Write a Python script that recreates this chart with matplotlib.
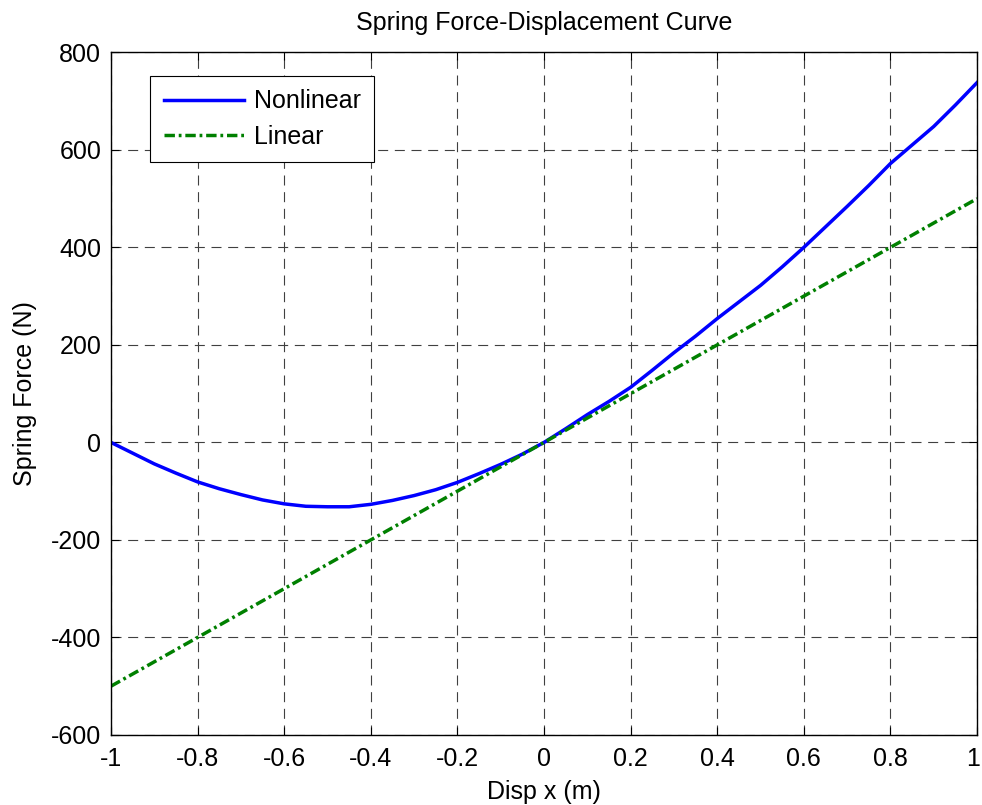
"""Spring force vs displacement, nonlinear and linear springs."""

import matplotlib
import numpy as np

matplotlib.use("Agg")
import matplotlib.pyplot as plt
import matplotlib.transforms as mtransforms

plt.rcParams["font.family"] = ["Liberation Sans", "DejaVu Sans"]

# values
disp = [-1.0, -0.95, -0.9, -0.85, -0.8, -0.75, -0.7, -0.65, -0.6, -0.55,
        -0.5, -0.45, -0.4, -0.35, -0.3, -0.25, -0.2, -0.15, -0.1, -0.05,
        0.0, 0.05, 0.1, 0.15, 0.2, 0.25, 0.3, 0.35, 0.4, 0.45,
        0.5, 0.55, 0.6, 0.65, 0.7, 0.75, 0.8, 0.85, 0.9, 0.95, 1.0]
force_nonlinear = [0, -22, -44, -63, -81, -95, -107, -118, -126, -131,
                   -132, -132, -127, -119, -109, -97, -82, -64, -45, -24,
                   0, 28, 57, 84, 113, 148, 184, 218, 254, 288,
                   322, 360, 400, 442, 484, 527, 572, 610, 648, 692, 738]
disp_linear = [-1.0, 1.0]
force_linear = [-500, 500]

fs = 18

fig = plt.figure(figsize=(9.82, 8.05), dpi=100)
ax = fig.add_axes([0.113, 0.087, 0.882, 0.848])

ax.plot(disp, force_nonlinear, color="blue", linewidth=2.5, label="Nonlinear")
ax.plot(disp_linear, force_linear, color="green", linewidth=2.5,
        linestyle=(0, (3.0, 1.1, 0.8, 1.1)), label="Linear")

ax.set_xlim(-1, 1)
ax.set_ylim(-600, 800)
ax.set_xticks(np.arange(-1, 1.01, 0.2))
ax.set_xticklabels(["-1", "-0.8", "-0.6", "-0.4", "-0.2", "0",
                    "0.2", "0.4", "0.6", "0.8", "1"])
ax.set_yticks(np.arange(-600, 801, 200))
ax.set_yticklabels([str(v) for v in range(-600, 801, 200)])
ax.tick_params(direction="in", top=True, right=True, labelsize=fs,
               length=6, width=0.8)
ax.tick_params(axis="x", pad=9)
ax.tick_params(axis="y", pad=7)
ax.grid(True, color="#404040", linestyle=(0, (9, 6)), linewidth=0.8)
for s in ax.spines.values():
    s.set_linewidth(1.0)

# keep the last x label inside the figure edge
last = ax.get_xticklabels()[-1]
last.set_transform(last.get_transform()
                   + mtransforms.ScaledTranslation(-4 / 100, 0, fig.dpi_scale_trans))

ax.set_title("Spring Force-Displacement Curve", fontsize=fs, pad=16)
ax.set_xlabel("Disp x (m)", fontsize=fs, labelpad=6)
ax.set_ylabel("Spring Force (N)", fontsize=fs, labelpad=10)

leg = ax.legend(loc="upper left", bbox_to_anchor=(0.045, 0.966),
                borderaxespad=0, fontsize=fs, frameon=True, fancybox=False,
                edgecolor="black", framealpha=1, handlelength=3.2,
                handletextpad=0.4, borderpad=0.55, labelspacing=0.45)
leg.get_frame().set_linewidth(0.8)

fig.savefig("out.png", dpi=100)
plt.close()
